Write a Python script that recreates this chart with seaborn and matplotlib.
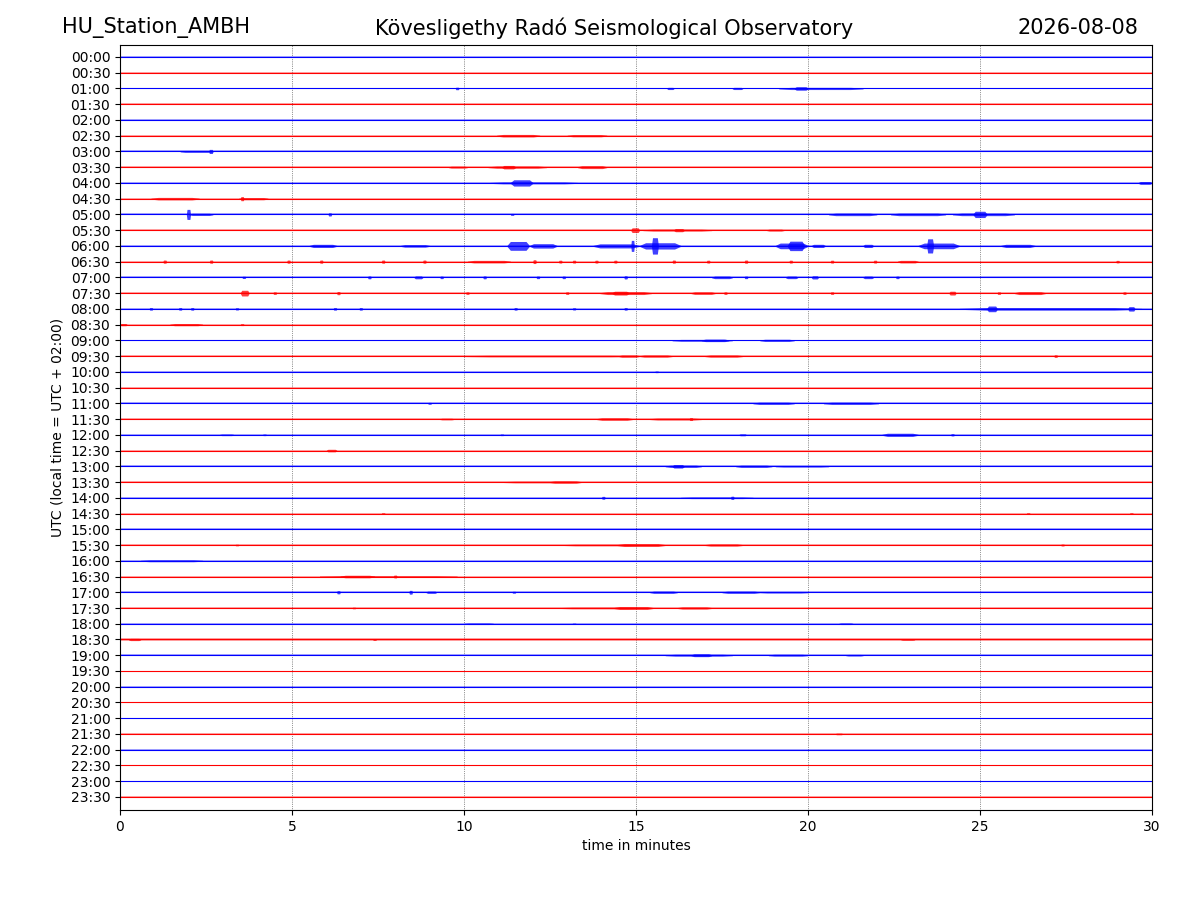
import numpy as np
import pandas as pd
import matplotlib
matplotlib.use("Agg")
import matplotlib.pyplot as plt
import seaborn as sns

STATION = "HU_Station_AMBH"
OBSERVATORY = "Kövesligethy Radó Seismological Observatory"
DAY = "2026-08-08"

SLOTS = [f"{h:02d}:{m:02d}" for h in range(24) for m in (0, 30)]
MINUTE_TICKS = [0, 5, 10, 15, 20, 25, 30]
TRACE_COLORS = ["blue", "red"]

# background noise half-width of each trace, in trace-spacing units
NOISE = [
    0.03, 0.05, 0.06, 0.05, 0.03, 0.05, 0.06, 0.05, 0.03, 0.06, 0.06, 0.05,
    0.04, 0.06, 0.06, 0.06, 0.05, 0.06, 0.05, 0.05, 0.03, 0.05, 0.06, 0.05,
    0.05, 0.06, 0.06, 0.04, 0.04, 0.06, 0.05, 0.05, 0.05, 0.06, 0.06, 0.04,
    0.06, 0.07, 0.05, 0.03, 0.05, 0.06, 0.03, 0.03, 0.05, 0.05, 0.03, 0.03,
]

# visible wave packets: (slot, start minute, end minute, half amplitude)
BURSTS = [
    ("01:00", 9.75, 9.85, 0.08), ("01:00", 15.9, 16.1, 0.07), ("01:00", 17.8, 18.1, 0.07),
    ("01:00", 19.15, 21.6, 0.07), ("01:00", 19.6, 20.0, 0.11),
    ("02:30", 10.95, 12.2, 0.08), ("02:30", 13.0, 14.15, 0.07),
    ("03:00", 1.75, 2.7, 0.06), ("03:00", 2.58, 2.7, 0.13),
    ("03:30", 9.55, 10.1, 0.06), ("03:30", 10.7, 12.4, 0.07), ("03:30", 11.1, 11.5, 0.11),
    ("03:30", 13.3, 14.15, 0.09),
    ("04:00", 10.75, 13.3, 0.06), ("04:00", 11.35, 12.0, 0.2), ("04:00", 29.6, 30.0, 0.09),
    ("04:30", 0.9, 2.3, 0.08), ("04:30", 3.45, 4.3, 0.07), ("04:30", 3.5, 3.6, 0.13),
    ("05:00", 1.93, 2.05, 0.32), ("05:00", 2.0, 2.7, 0.07), ("05:00", 6.05, 6.15, 0.1),
    ("05:00", 11.35, 11.45, 0.06), ("05:00", 20.6, 22.0, 0.08), ("05:00", 22.4, 24.0, 0.08),
    ("05:00", 24.2, 26.0, 0.08), ("05:00", 24.8, 25.2, 0.2),
    ("05:30", 14.85, 15.1, 0.15), ("05:30", 15.2, 17.2, 0.06), ("05:30", 16.1, 16.4, 0.1),
    ("05:30", 18.8, 19.3, 0.06),
    ("06:00", 5.5, 6.3, 0.1), ("06:00", 8.15, 9.0, 0.08), ("06:00", 11.25, 11.9, 0.28),
    ("06:00", 11.9, 12.7, 0.14), ("06:00", 13.75, 15.1, 0.13), ("06:00", 14.85, 14.95, 0.35),
    ("06:00", 15.1, 16.3, 0.2), ("06:00", 15.45, 15.65, 0.52), ("06:00", 19.05, 20.0, 0.18),
    ("06:00", 19.4, 19.9, 0.3), ("06:00", 20.1, 20.5, 0.1), ("06:00", 21.6, 21.9, 0.1),
    ("06:00", 23.2, 24.4, 0.18), ("06:00", 23.45, 23.65, 0.45), ("06:00", 25.6, 26.6, 0.1),
    ("06:30", 1.25, 1.35, 0.1), ("06:30", 2.6, 2.7, 0.1), ("06:30", 4.85, 4.95, 0.1),
    ("06:30", 5.8, 5.9, 0.1), ("06:30", 7.6, 7.7, 0.1), ("06:30", 8.8, 8.9, 0.1),
    ("06:30", 10.1, 11.35, 0.08), ("06:30", 12.0, 12.1, 0.12), ("06:30", 12.75, 12.85, 0.09),
    ("06:30", 13.15, 13.25, 0.09), ("06:30", 13.8, 13.9, 0.09), ("06:30", 14.35, 14.45, 0.09),
    ("06:30", 16.05, 16.15, 0.1), ("06:30", 17.05, 17.15, 0.09), ("06:30", 18.15, 18.25, 0.1),
    ("06:30", 19.45, 19.55, 0.09), ("06:30", 20.65, 20.75, 0.09), ("06:30", 21.9, 22.0, 0.09),
    ("06:30", 22.6, 23.2, 0.08), ("06:30", 28.95, 29.05, 0.08),
    ("07:00", 3.55, 3.65, 0.07), ("07:00", 7.2, 7.3, 0.09), ("07:00", 8.55, 8.8, 0.09),
    ("07:00", 9.3, 9.4, 0.08), ("07:00", 10.55, 10.65, 0.09), ("07:00", 12.1, 12.2, 0.08),
    ("07:00", 12.85, 12.95, 0.08), ("07:00", 14.65, 14.75, 0.1), ("07:00", 17.2, 17.8, 0.08),
    ("07:00", 18.15, 18.25, 0.08), ("07:00", 19.35, 19.7, 0.08), ("07:00", 20.1, 20.3, 0.1),
    ("07:00", 21.6, 21.9, 0.08), ("07:00", 22.55, 22.65, 0.08),
    ("07:30", 3.5, 3.75, 0.18), ("07:30", 4.45, 4.55, 0.08), ("07:30", 6.3, 6.4, 0.1),
    ("07:30", 10.05, 10.15, 0.08), ("07:30", 12.95, 13.05, 0.08), ("07:30", 13.95, 15.45, 0.09),
    ("07:30", 14.3, 14.8, 0.12), ("07:30", 16.6, 17.3, 0.08), ("07:30", 17.55, 17.65, 0.08),
    ("07:30", 20.65, 20.75, 0.08), ("07:30", 24.1, 24.3, 0.12), ("07:30", 25.5, 25.6, 0.08),
    ("07:30", 26.0, 26.9, 0.09), ("07:30", 29.15, 29.25, 0.08),
    ("08:00", 0.85, 0.95, 0.08), ("08:00", 1.7, 1.8, 0.08), ("08:00", 2.05, 2.15, 0.08),
    ("08:00", 3.35, 3.45, 0.07), ("08:00", 6.2, 6.3, 0.08), ("08:00", 6.95, 7.05, 0.08),
    ("08:00", 11.45, 11.55, 0.08), ("08:00", 13.15, 13.25, 0.07), ("08:00", 14.65, 14.75, 0.08),
    ("08:00", 24.4, 29.7, 0.08), ("08:00", 25.2, 25.5, 0.18), ("08:00", 29.3, 29.5, 0.14),
    ("08:30", 0.0, 0.2, 0.07), ("08:30", 1.45, 2.4, 0.07), ("08:30", 3.5, 3.6, 0.06),
    ("09:00", 16.05, 17.8, 0.06), ("09:00", 16.9, 17.7, 0.08), ("09:00", 18.6, 19.6, 0.07),
    ("09:30", 10.0, 15.0, 0.05), ("09:30", 14.5, 15.1, 0.07), ("09:30", 15.1, 16.05, 0.07),
    ("09:30", 17.0, 18.1, 0.07), ("09:30", 27.15, 27.25, 0.08),
    ("10:00", 15.55, 15.65, 0.05),
    ("11:00", 8.95, 9.05, 0.06), ("11:00", 18.4, 19.6, 0.07), ("11:00", 20.45, 22.05, 0.07),
    ("11:30", 9.3, 9.7, 0.05), ("11:30", 13.85, 14.9, 0.08), ("11:30", 15.4, 16.9, 0.06),
    ("11:30", 16.55, 16.65, 0.09),
    ("12:00", 2.9, 3.3, 0.05), ("12:00", 4.15, 4.25, 0.05), ("12:00", 11.05, 11.15, 0.05),
    ("12:00", 18.0, 18.2, 0.06), ("12:00", 22.15, 23.2, 0.1), ("12:00", 24.15, 24.25, 0.07),
    ("12:30", 6.0, 6.3, 0.08),
    ("13:00", 15.85, 16.9, 0.07), ("13:00", 16.05, 16.4, 0.11), ("13:00", 17.9, 18.95, 0.07),
    ("13:00", 19.05, 20.6, 0.05),
    ("13:30", 11.15, 13.4, 0.05), ("13:30", 12.5, 13.4, 0.07),
    ("14:00", 14.0, 14.1, 0.09), ("14:00", 16.3, 18.4, 0.05), ("14:00", 17.75, 17.85, 0.1),
    ("14:30", 7.6, 7.7, 0.05), ("14:30", 26.35, 26.45, 0.05), ("14:30", 29.35, 29.45, 0.05),
    ("15:30", 3.35, 3.45, 0.05), ("15:30", 12.9, 15.1, 0.05), ("15:30", 14.45, 15.85, 0.09),
    ("15:30", 17.0, 18.1, 0.07), ("15:30", 27.35, 27.45, 0.06),
    ("16:00", 0.6, 2.4, 0.06),
    ("16:30", 5.8, 9.8, 0.05), ("16:30", 6.4, 7.4, 0.08), ("16:30", 7.95, 8.05, 0.09),
    ("17:00", 6.3, 6.4, 0.1), ("17:00", 8.4, 8.5, 0.12), ("17:00", 8.9, 9.2, 0.07),
    ("17:00", 11.4, 11.5, 0.06), ("17:00", 15.4, 16.2, 0.07), ("17:00", 17.5, 18.6, 0.07),
    ("17:00", 18.6, 20.0, 0.05),
    ("17:30", 6.75, 6.85, 0.05), ("17:30", 12.8, 15.1, 0.05), ("17:30", 14.35, 15.5, 0.09),
    ("17:30", 16.2, 17.2, 0.07),
    ("18:00", 10.0, 10.85, 0.05), ("18:00", 13.15, 13.25, 0.04), ("18:00", 20.9, 21.3, 0.05),
    ("18:30", 0.25, 0.6, 0.07), ("18:30", 7.35, 7.45, 0.06), ("18:30", 22.7, 23.1, 0.05),
    ("19:00", 15.85, 17.8, 0.06), ("19:00", 16.6, 17.2, 0.09), ("19:00", 18.85, 20.0, 0.06),
    ("19:00", 21.1, 21.6, 0.05),
    ("21:30", 20.8, 21.0, 0.05),
]

# ── figure ───────────────────────────────────────────────────────────────────
sns.set_style("ticks", {"text.color": "black", "axes.labelcolor": "black",
                        "xtick.color": "black", "ytick.color": "black",
                        "axes.edgecolor": "black"})
plt.rcParams["font.family"] = ["DejaVu Sans"]

fig = plt.figure(figsize=(12, 9), dpi=100)
ax = fig.add_axes([0.1, 0.1, 0.86, 0.85])

rows = pd.DataFrame({"slot": SLOTS, "offset": np.arange(len(SLOTS)), "noise": NOISE})
rows["color"] = [TRACE_COLORS[i % 2] for i in range(len(SLOTS))]

# baselines, one line per half-hour trace
base = pd.concat([rows.assign(minute=MINUTE_TICKS[0]), rows.assign(minute=MINUTE_TICKS[-1])])
sns.lineplot(data=base, x="minute", y="offset", hue="slot", palette=list(rows["color"]),
             units="slot", estimator=None, legend=False, linewidth=0.8, ax=ax)

# light noise halo around each trace
for _, r in rows.iterrows():
    ax.fill_between([MINUTE_TICKS[0], MINUTE_TICKS[-1]], r.offset - r.noise, r.offset + r.noise,
                    color=r.color, alpha=0.35, linewidth=0)

# wave packets
bursts = pd.DataFrame(BURSTS, columns=["slot", "start", "end", "amp"]).merge(rows, on="slot")
for _, b in bursts.iterrows():
    ramp = (b.end - b.start) * 0.15
    xs = [b.start, b.start + ramp, b.end - ramp, b.end]
    half = [0.03, b.amp, b.amp, 0.03]
    ax.fill_between(xs, [b.offset - h for h in half], [b.offset + h for h in half],
                    color=b.color, alpha=0.75, linewidth=0)

ax.set_xlim(MINUTE_TICKS[0], MINUTE_TICKS[-1])
ax.set_ylim(len(SLOTS) - 0.17, -0.76)
ax.set_xticks(MINUTE_TICKS)
ax.set_yticks(rows["offset"])
ax.set_yticklabels(SLOTS)
ax.tick_params(labelsize=10, length=3.5, width=0.8, colors="black")
ax.grid(axis="x", color="black", linestyle=":", linewidth=0.5, alpha=0.8)
ax.grid(axis="y", visible=False)
for side in ax.spines.values():
    side.set_color("black")
    side.set_linewidth(0.8)

ax.set_xlabel("time in minutes", fontsize=10, color="black")
ax.set_ylabel("UTC (local time = UTC + 02:00)", fontsize=10, color="black")

fig.text(0.052, 0.969, STATION, fontsize=15, ha="left", va="center", color="black")
fig.text(0.512, 0.969, OBSERVATORY, fontsize=15, ha="center", va="center", color="black")
fig.text(0.949, 0.969, DAY, fontsize=15, ha="right", va="center", color="black")

fig.savefig("out.png", dpi=100)
plt.close(fig)
